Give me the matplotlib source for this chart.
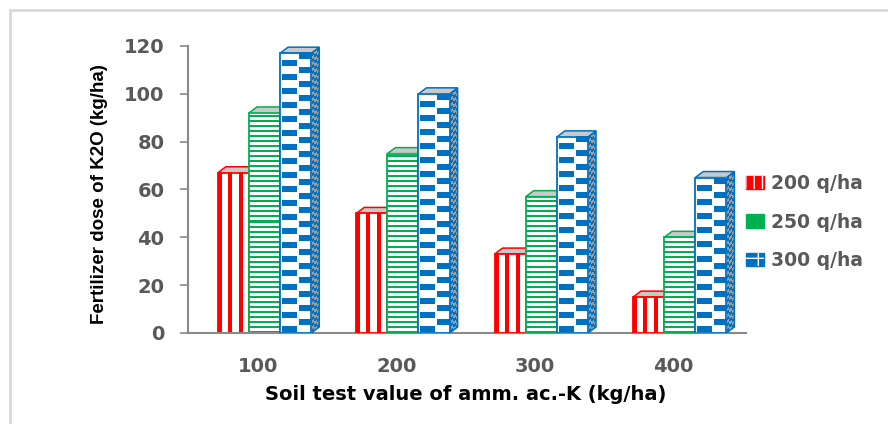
import numpy as np
import matplotlib
matplotlib.use("Agg")
import matplotlib.pyplot as plt
from matplotlib.patches import Polygon, Patch, Rectangle
from matplotlib.transforms import Affine2D

# soil test values and K2O doses for each yield target
soil_k = ["100", "200", "300", "400"]
targets = ["200 q/ha", "250 q/ha", "300 q/ha"]
dose_200 = [67, 50, 33, 15]
dose_250 = [92, 75, 57, 40]
dose_300 = [117, 100, 82, 65]

colors = ["#ff0000", "#00b050", "#0070c0"]
W, H = 888, 424

fig = plt.figure(figsize=(W / 100, H / 100), dpi=100)
ax = fig.add_axes([188 / W, (H - 333) / H, (746 - 188) / W, (333 - 46) / H])
ax.set_xlim(-0.553, 3.479)
ax.set_ylim(0, 120)

bb = ax.get_window_extent()
sx = bb.width / (3.479 + 0.553)   # px per x unit
sy = bb.height / 120.0            # px per y unit

bw = 0.225
ddx = 8 / sx   # depth offsets
ddy = 6 / sy

white = np.array([1.0, 1.0, 1.0, 1.0])
gray = np.array([0.62, 0.62, 0.62, 1.0])


def rgba(c):
    return np.array(matplotlib.colors.to_rgba(c))


def front_pattern(kind, wpx, hpx, c):
    nc, nr = max(int(round(wpx)), 1), max(int(round(hpx)), 1)
    jj, rr = np.meshgrid(np.arange(nc), np.arange(nr))
    if kind == 0:
        mask = (jj % 10) < 4
    elif kind == 1:
        mask = (rr % 5) < 2
    else:
        mask = (((jj // 16) + (rr // 7)) % 2 == 0) & ((jj % 16) >= 2) & ((rr % 7) >= 1)
    return np.where(mask[..., None], rgba(c), white)


def side_pattern(hpx, c):
    nr = max(int(round(hpx)), 1)
    jj, rr = np.meshgrid(np.arange(8), np.arange(nr))
    mask = ((jj // 3) + (rr // 3)) % 2 == 0
    return np.where(mask[..., None], rgba(c), gray)


series = [dose_200, dose_250, dose_300]
for g in range(len(soil_k)):
    for s, vals in enumerate(series):
        h = vals[g]
        c = colors[s]
        x0 = g + (s - 1.5) * bw
        x1 = x0 + bw
        z = 2 + g + s * 0.3

        # right side face
        im = ax.imshow(side_pattern(h * sy, c), extent=[0, 1, 0, 1], origin="lower",
                       interpolation="nearest", aspect="auto", zorder=z)
        im.set_transform(Affine2D(np.array([[ddx, 0, x1], [ddy, h, 0], [0, 0, 1]])) + ax.transData)
        ax.add_patch(Polygon([(x1, 0), (x1 + ddx, ddy), (x1 + ddx, h + ddy), (x1, h)],
                             closed=True, fill=False, ec=c, lw=1.1, zorder=z + 0.01))
        # top face
        ax.add_patch(Polygon([(x0, h), (x1, h), (x1 + ddx, h + ddy), (x0 + ddx, h + ddy)],
                             closed=True, fc="#c9c9c9", ec=c, lw=1.1, zorder=z + 0.1))
        # front face
        ax.imshow(front_pattern(s, bw * sx, h * sy, c), extent=[x0, x1, 0, h], origin="lower",
                  interpolation="none", aspect="auto", zorder=z + 0.15)
        ax.bar(x0, h, width=bw, align="edge", fill=False, ec=c, lw=1.3, zorder=z + 0.2)

ax.set_xlim(-0.553, 3.479)
ax.set_ylim(0, 120)

axis_gray = "#898989"
txt_gray = "#595959"
for sp in ["top", "right"]:
    ax.spines[sp].set_visible(False)
for sp in ["left", "bottom"]:
    ax.spines[sp].set_color(axis_gray)
    ax.spines[sp].set_linewidth(1.5)

ax.set_yticks(range(0, 121, 20))
ax.set_xticks([i - 0.045 for i in range(len(soil_k))])
ax.set_xticklabels(soil_k)
ax.tick_params(axis="y", length=6, width=1.2, color=axis_gray, pad=11,
               labelsize=14, labelcolor=txt_gray)
ax.tick_params(axis="x", length=0, pad=17, labelsize=14, labelcolor=txt_gray)
for t in ax.get_xticklabels() + ax.get_yticklabels():
    t.set_fontweight("bold")

fig.text(466 / W, 1 - 395 / H, "Soil test value of amm. ac.-K (kg/ha)", ha="center", va="center",
         fontsize=14, fontweight="bold", color="black")
fig.text(100 / W, 1 - 194 / H, "Fertilizer dose of K2O (kg/ha)", ha="center", va="center",
         rotation=90, fontsize=13.5, fontweight="bold", color="black",
         family=["Liberation Sans Narrow", "Liberation Sans"])

# legend keys: filled square with white marks
marks = ["||", "=", "+"]
handles = [(Patch(fc=c, ec=c, lw=1), Patch(fc="none", ec="white", hatch=m, lw=0))
           for c, m in zip(colors, marks)]
leg = fig.legend(handles, targets, loc="upper left", bbox_to_anchor=(729 / W, 1 - 157 / H),
                 frameon=False, prop={"weight": "bold", "size": 13.5},
                 handlelength=0.95, handleheight=0.7, handletextpad=0.4, labelspacing=1.05)
for t in leg.get_texts():
    t.set_color(txt_gray)

# outer chart border
fig.add_artist(Rectangle((10 / W, -0.1), 1.2, 1 - 10 / H + 0.1, transform=fig.transFigure,
                         fill=False, ec="#d9d9d9", lw=2))

fig.savefig("out.png", dpi=100)
